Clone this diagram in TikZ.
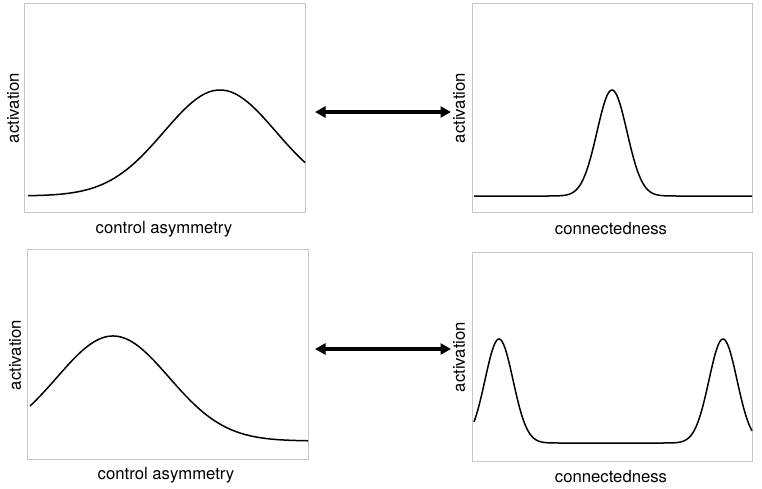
\documentclass[tikz,border=0pt]{standalone}
\usepackage{fontspec}
\setmainfont{TeX Gyre Heros}
\usetikzlibrary{arrows.meta}

\tikzset{
  panel/.style={draw=black!22, line width=0.9pt},
  curve/.style={line width=1.5pt, smooth, samples=200},
  link/.style={line width=3.1pt, {Triangle[length=10.5pt,width=11pt]}-{Triangle[length=10.5pt,width=11pt]}},
  axlabel/.style={font=\fontsize{16.7}{20}\selectfont, inner sep=0pt},
}

\begin{document}
\begin{tikzpicture}[x=1pt, y=-1pt]
    \useasboundingbox (0,0) rectangle (762,488);

    %% top row
    % 1. control asymmetry, peak on the right
    \draw[panel] (24,3) rectangle (305,212);
    \draw[curve, domain=28:305] plot (\x, {196-106*exp(-((\x-220)/56)^2/2)});
    \node[axlabel] (xlabA) at (164,229) {control asymmetry};
    \node[axlabel, rotate=90] (ylabA) at (13,108) {activation};

    % 2. connectedness, one narrow peak
    \draw[panel] (472,3) rectangle (752,212);
    \draw[curve, domain=474:752] plot (\x, {196-106*exp(max(-30,-((\x-612)/15)^2/2))});
    \node[axlabel] (xlabB) at (611,229) {connectedness};
    \node[axlabel, rotate=90] (ylabB) at (459,108) {activation};

    %% bottom row
    % 3. control asymmetry, peak on the left
    \draw[panel] (27,249) rectangle (308,459);
    \draw[curve, domain=30:308] plot (\x, {441-105*exp(-((\x-113)/56)^2/2)});
    \node[axlabel] (xlabC) at (166,475) {control asymmetry};
    \node[axlabel, rotate=90] (ylabC) at (15,355) {activation};

    % 4. connectedness, two narrow peaks
    \draw[panel] (472,252) rectangle (752,461);
    \draw[curve, domain=474:752] plot (\x, {443-104*(exp(max(-30,-((\x-499)/14)^2/2))+exp(max(-30,-((\x-723)/14)^2/2)))});
    \node[axlabel] (xlabD) at (611,477) {connectedness};
    \node[axlabel, rotate=90] (ylabD) at (459,357) {activation};

    %% arrows between the rows' panels
    \coordinate (topL) at (315,112);
    \coordinate (topR) at (451,112);
    \coordinate (botL) at (315,349);
    \coordinate (botR) at (451,349);
    \draw[link] (topL) -- (topR);
    \draw[link] (botL) -- (botR);

\end{tikzpicture}
\end{document}
